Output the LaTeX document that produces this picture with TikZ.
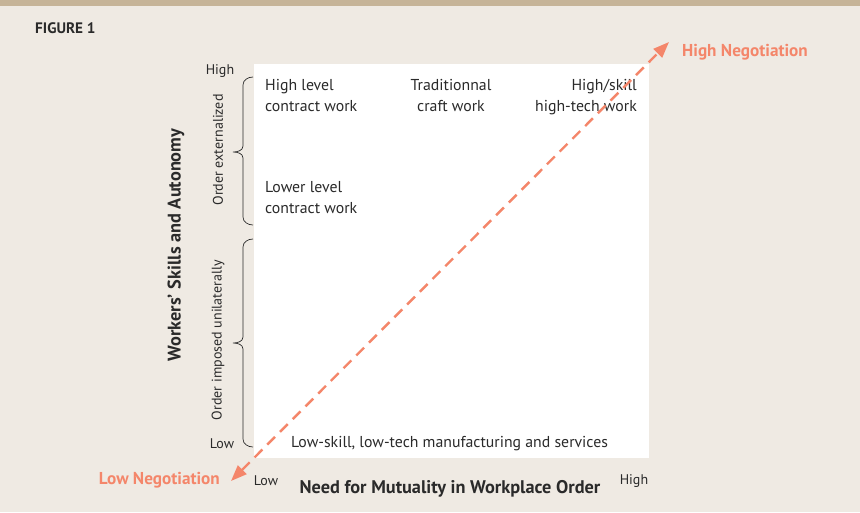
\documentclass[tikz,border=0pt]{standalone}
\usepackage{fontspec}
\setmainfont{PT Sans}
\usetikzlibrary{arrows.meta}
\definecolor{bg}{HTML}{EFEAE3}
\definecolor{bar}{HTML}{C6B498}
\definecolor{salmon}{HTML}{F4866A}
\definecolor{ink}{HTML}{2A2A2A}
\tikzset{
  lbl/.style={text=ink, inner sep=0pt, font=\fontsize{15.8}{20}\selectfont},
  small/.style={text=ink, inner sep=0pt, font=\fontsize{14}{16}\selectfont},
  axis/.style={text=ink, inner sep=0pt, font=\bfseries\fontsize{18.3}{20}\selectfont},
  neg/.style={text=salmon, inner sep=0pt, font=\bfseries\fontsize{17.2}{19}\selectfont},
  bracepath/.style={draw=ink, line width=0.7pt},
  negarrow/.style={draw=salmon, line width=2.4pt, dash pattern=on 11pt off 7pt, {Triangle[length=16pt,width=12pt]}-{Triangle[length=16pt,width=12pt]}}
}
\begin{document}
\begin{tikzpicture}[x=1pt,y=-1pt]
\fill[bg] (0,0) rectangle (860,512);
\useasboundingbox (0,0) rectangle (860,512);
\fill[bar] (0,0) rectangle (860,6);
\node[text=ink, inner sep=0pt, font=\bfseries\fontsize{15.2}{17}\selectfont, anchor=west] (fig) at (35,28) {FIGURE 1};
\fill[white] (254,64) rectangle (649,458);
% y axis labels
\node[small] (yhigh) at (220,71) {High};
\node[small] (ylow) at (222,444) {Low};
\node[axis, rotate=90] (ytitle) at (176,245) {Workers’ Skills and Autonomy};
\node[small, rotate=90] (oext) at (218,150) {Order externalized};
\node[small, rotate=90] (oimp) at (218,340) {Order imposed unilaterally};
% braces
\draw[bracepath] (253,77) to[out=180,in=90] (243,85) -- (243,146) to[out=-90,in=0] (233,152) to[out=0,in=90] (243,158) -- (243,217) to[out=-90,in=180] (253,225);
\draw[bracepath] (253,239) to[out=180,in=90] (243,247) -- (243,337) to[out=-90,in=0] (233,343) to[out=0,in=90] (243,349) -- (243,439) to[out=-90,in=180] (253,447);
% cell texts
\node[lbl, anchor=base west] (hlc1) at (265,90) {High level};
\node[lbl, anchor=base west] (hlc2) at (265,111) {contract work};
\node[lbl, anchor=base] (tcw1) at (451,90) {Traditionnal};
\node[lbl, anchor=base] (tcw2) at (451,111) {craft work};
\node[lbl, anchor=base east] (hst1) at (637,90) {High/skill};
\node[lbl, anchor=base east] (hst2) at (637,111) {high-tech work};
\node[lbl, anchor=base west] (llc1) at (265,192) {Lower level};
\node[lbl, anchor=base west] (llc2) at (265,213) {contract work};
\node[lbl, anchor=base west] (lsk) at (291,447) {Low-skill, low-tech manufacturing and services};
% x axis labels
\node[small] (xlow) at (266,481) {Low};
\node[axis] (xtitle) at (450,489) {Need for Mutuality in Workplace Order};
\node[small] (xhigh) at (634,481) {High};
% negotiation arrow
\coordinate (lowend) at (231,481);
\coordinate (highend) at (669,42);
\draw[negarrow] (lowend) -- (highend);
\node[neg, anchor=base east] (lowneg) at (220,484) {Low Negotiation};
\node[neg, anchor=base west] (highneg) at (682,56) {High Negotiation};
\end{tikzpicture}
\end{document}
